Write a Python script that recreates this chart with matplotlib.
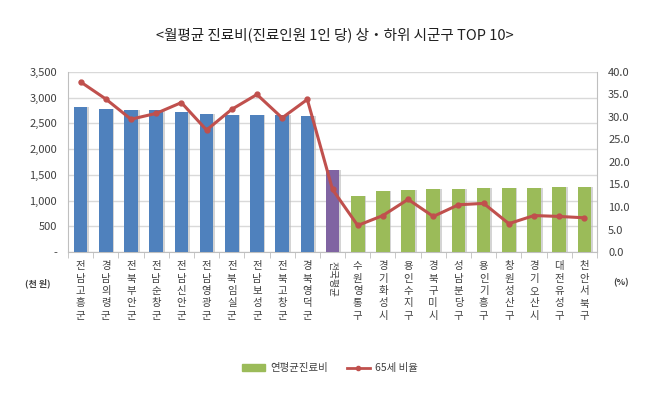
import numpy as np
import matplotlib.pyplot as plt

plt.rcParams['font.family'] = ['Noto Sans CJK KR', 'DejaVu Sans']

regions = ['전남 고흥군', '경남 의령군', '전북 부안군', '전남 순창군', '전남 신안군',
           '전남 영광군', '전북 임실군', '전남 보성군', '전북 고창군', '경북 영덕군',
           '전국평균',
           '수원 영통구', '경기 화성시', '용인 수지구', '경북 구미시', '성남 분당구',
           '용인 기흥구', '창원 성산구', '경기 오산시', '대전 유성구', '천안 서북구']
cost = [2820, 2790, 2770, 2770, 2720, 2690, 2670, 2655, 2655, 2635,
        1600,
        1080, 1195, 1205, 1225, 1230, 1245, 1245, 1250, 1258, 1265]
ratio65 = [37.8, 34.0, 29.5, 30.8, 33.2, 27.1, 31.7, 35.0, 29.8, 33.9,
           13.9,
           5.9, 8.1, 11.7, 7.9, 10.5, 10.8, 6.3, 8.1, 7.9, 7.6]
left_ticks = [0, 500, 1000, 1500, 2000, 2500, 3000, 3500]
left_labels = ['-', '500', '1,000', '1,500', '2,000', '2,500', '3,000', '3,500']
right_ticks = [0, 5, 10, 15, 20, 25, 30, 35, 40]

blue = '#4F81BD'
purple = '#8064A2'
green = '#9BBB59'
red = '#C0504D'
colors = [blue] * 10 + [purple] + [green] * 10

fig = plt.figure(figsize=(6.5, 3.94), dpi=100)
ax = fig.add_axes([0.1046, 0.3604, 0.8139, 0.4569])
x = np.arange(len(regions))

# shadow behind bars
ax.bar(x + 0.07, cost, width=0.54, color='#b8b8b8', alpha=0.6, zorder=2)
ax.bar(x, cost, width=0.54, color=colors, zorder=3)

ax.set_xlim(-0.5, len(regions) - 0.5)
ax.set_ylim(0, 3500)
ax.set_yticks(left_ticks)
ax.set_yticklabels(left_labels)
ax.yaxis.grid(True, color='#d9d9d9', linewidth=1)
ax.set_axisbelow(True)
ax.tick_params(axis='y', length=0, labelsize=8, colors='#404040', pad=8)
for s in ['top', 'right']:
    ax.spines[s].set_visible(False)
ax.spines['left'].set_color('#bfbfbf')
ax.spines['bottom'].set_color('#bfbfbf')

ax.set_xticks(x)
ax.set_xticklabels([])
ax.tick_params(axis='x', length=0)
ax.set_xticks(np.arange(-0.5, len(regions)), minor=True)
ax.tick_params(axis='x', which='minor', length=4, color='#bfbfbf')

for i, name in enumerate(regions):
    if name == '전국평균':
        ax.text(i, -180, name, rotation=270, ha='center', va='top',
                fontsize=7, color='#404040')
    else:
        ax.text(i, -180, '\n'.join(name.replace(' ', '')), ha='center', va='top',
                fontsize=7.5, color='#404040', linespacing=1.3)

ax2 = ax.twinx()
ax2.plot(x, ratio65, color=red, linewidth=2.2, marker='o', markersize=3.5, zorder=5)
ax2.set_ylim(0, 40)
ax2.set_yticks(right_ticks)
ax2.set_yticklabels(['%.1f' % v for v in right_ticks])
ax2.tick_params(axis='y', length=0, labelsize=8, colors='#404040', pad=8)
for s in ['top', 'left', 'bottom']:
    ax2.spines[s].set_visible(False)
ax2.spines['right'].set_color('#bfbfbf')

fig.text(0.515, 0.911, '<월평균 진료비(진료인원 1인 당) 상・하위 시군구 TOP 10>',
         ha='center', va='center', fontsize=10.5, color='#202020')
fig.text(0.058, 0.282, '(천 원)', ha='center', va='center', fontsize=6.5,
         fontweight='bold', color='#404040')
fig.text(0.955, 0.282, '(%)', ha='center', va='center', fontsize=6.5,
         fontweight='bold', color='#404040')

h1 = plt.Rectangle((0, 0), 1, 1, color=green)
h2, = ax2.plot([], [], color=red, linewidth=2, marker='o', markersize=3)
fig.legend([h1, h2], ['연평균진료비', '65세 비율'], loc='center',
           bbox_to_anchor=(0.508, 0.066), ncol=2, frameon=False, fontsize=7.5,
           handlelength=2.2, handleheight=0.6, handletextpad=0.5,
           columnspacing=1.8, labelcolor='#404040')

fig.savefig('out.png', dpi=100)
